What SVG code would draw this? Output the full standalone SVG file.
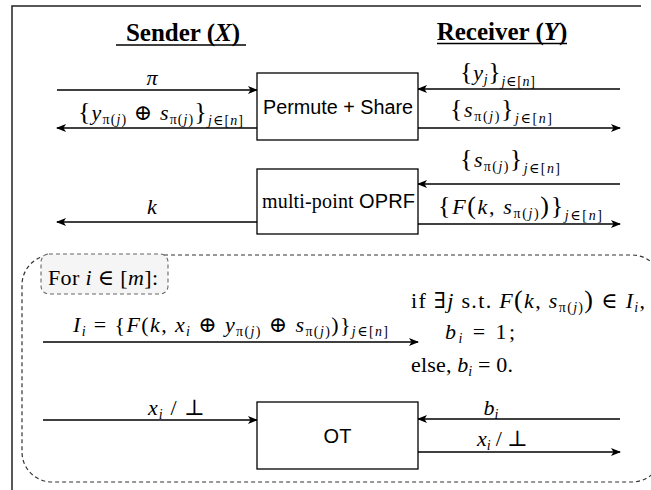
<svg xmlns="http://www.w3.org/2000/svg" width="651" height="490" viewBox="0 0 651 490">
<style>
.m{font-family:"Liberation Serif","DejaVu Serif",serif;font-size:22px;fill:#000}
.i{font-style:italic}
.s{font-size:14px}
.br{font-size:26px}
.sans{font-family:"Liberation Sans","DejaVu Sans",sans-serif;font-size:20px;fill:#000}
.h{font-family:"Liberation Serif","DejaVu Serif",serif;font-size:25px;font-weight:bold;fill:#000}
.box{fill:#fff;stroke:#000;stroke-width:1.3}
.ln{fill:none;stroke:#000;stroke-width:1.3}
</style>
<defs>
<marker id="ah" viewBox="0 0 10 8" refX="9" refY="4" markerWidth="10" markerHeight="8" markerUnits="userSpaceOnUse" orient="auto">
<path d="M0,0 L10,4 L0,8 L2.5,4 z" fill="#000"/>
</marker>
</defs>
<rect width="651" height="490" fill="#fff"/>
<g id="frame">
<path d="M12,490 L12,6 L641,6" fill="none" stroke="#222" stroke-width="1.5"/>
</g>
<g id="loop">
<rect x="22" y="255" width="640" height="227" rx="30" fill="none" stroke="#333" stroke-width="1.2" stroke-dasharray="4 3"/>
</g>
<g id="headers">
<text class="h" x="183" y="41" text-anchor="middle">Sender (<tspan class="i">X</tspan>)</text>
<line x1="116" y1="45" x2="246" y2="45" stroke="#000" stroke-width="1.3"/>
<text class="h" x="502" y="40" text-anchor="middle">Receiver (<tspan class="i">Y</tspan>)</text>
<line x1="437" y1="43.5" x2="567" y2="43.5" stroke="#000" stroke-width="1.3"/>
</g>
<g id="connectors">
<line class="ln" x1="57" y1="90" x2="257" y2="90" marker-end="url(#ah)"/>
<line class="ln" x1="257" y1="128" x2="57" y2="128" marker-end="url(#ah)"/>
<line class="ln" x1="620" y1="89" x2="418" y2="89" marker-end="url(#ah)"/>
<line class="ln" x1="418" y1="128" x2="620" y2="128" marker-end="url(#ah)"/>
<line class="ln" x1="257" y1="222" x2="57" y2="222" marker-end="url(#ah)"/>
<line class="ln" x1="620" y1="184" x2="418" y2="184" marker-end="url(#ah)"/>
<line class="ln" x1="418" y1="224" x2="620" y2="224" marker-end="url(#ah)"/>
<line class="ln" x1="43" y1="342" x2="418" y2="342" marker-end="url(#ah)"/>
<line class="ln" x1="43" y1="420" x2="257" y2="420" marker-end="url(#ah)"/>
<line class="ln" x1="620" y1="419" x2="418" y2="419" marker-end="url(#ah)"/>
<line class="ln" x1="418" y1="452" x2="620" y2="452" marker-end="url(#ah)"/>
</g>
<g id="labels">
<text class="m i" x="152" y="85" text-anchor="middle">π</text>
<text class="m" x="78" y="120" textLength="165" lengthAdjust="spacing"><tspan class="br">{</tspan><tspan class="i">y</tspan><tspan class="s" dy="4">π(<tspan class="i">j</tspan>)</tspan><tspan dy="-4"> ⊕ </tspan><tspan class="i">s</tspan><tspan class="s" dy="4">π(<tspan class="i">j</tspan>)</tspan><tspan class="br" dy="-4">}</tspan><tspan class="s" dy="5"><tspan class="i">j</tspan>∈[<tspan class="i">n</tspan>]</tspan></text>
<text class="m" x="460" y="80" textLength="75" lengthAdjust="spacing"><tspan class="br">{</tspan><tspan class="i">y</tspan><tspan class="s i" dy="4">j</tspan><tspan class="br" dy="-4">}</tspan><tspan class="s" dy="6"><tspan class="i">j</tspan>∈[<tspan class="i">n</tspan>]</tspan></text>
<text class="m" x="450" y="117" textLength="102" lengthAdjust="spacing"><tspan class="br">{</tspan><tspan class="i">s</tspan><tspan class="s" dy="4">π(<tspan class="i">j</tspan>)</tspan><tspan class="br" dy="-4">}</tspan><tspan class="s" dy="6"><tspan class="i">j</tspan>∈[<tspan class="i">n</tspan>]</tspan></text>
<text class="m i" x="152" y="214" text-anchor="middle">k</text>
<text class="m" x="460" y="167" textLength="100" lengthAdjust="spacing"><tspan class="br">{</tspan><tspan class="i">s</tspan><tspan class="s" dy="4">π(<tspan class="i">j</tspan>)</tspan><tspan class="br" dy="-4">}</tspan><tspan class="s" dy="6"><tspan class="i">j</tspan>∈[<tspan class="i">n</tspan>]</tspan></text>
<text class="m" x="438" y="214" textLength="164" lengthAdjust="spacing"><tspan class="br">{</tspan><tspan class="i">F</tspan><tspan class="br">(</tspan><tspan class="i">k</tspan>, <tspan class="i">s</tspan><tspan class="s" dy="4">π(<tspan class="i">j</tspan>)</tspan><tspan class="br" dy="-4">)</tspan><tspan class="br">}</tspan><tspan class="s" dy="6"><tspan class="i">j</tspan>∈[<tspan class="i">n</tspan>]</tspan></text>
<text class="m" x="73" y="332" textLength="315" lengthAdjust="spacing"><tspan class="i">I</tspan><tspan class="s i" dy="4">i</tspan><tspan dy="-4"> = {</tspan><tspan class="i">F</tspan>(<tspan class="i">k</tspan>, <tspan class="i">x</tspan><tspan class="s i" dy="4">i</tspan><tspan dy="-4"> ⊕ </tspan><tspan class="i">y</tspan><tspan class="s" dy="4">π(<tspan class="i">j</tspan>)</tspan><tspan dy="-4"> ⊕ </tspan><tspan class="i">s</tspan><tspan class="s" dy="4">π(<tspan class="i">j</tspan>)</tspan><tspan dy="-4">)}</tspan><tspan class="s" dy="4"><tspan class="i">j</tspan>∈[<tspan class="i">n</tspan>]</tspan></text>
<text class="m" x="411" y="308" textLength="234" lengthAdjust="spacing">if ∃<tspan class="i">j</tspan> s.t. <tspan class="i">F</tspan><tspan class="br">(</tspan><tspan class="i">k</tspan>, <tspan class="i">s</tspan><tspan class="s" dy="4">π(<tspan class="i">j</tspan>)</tspan><tspan class="br" dy="-4">)</tspan> ∈ <tspan class="i">I</tspan><tspan class="s i" dy="4">i</tspan><tspan dy="-4">,</tspan></text>
<text class="m" x="445" y="339" textLength="70" lengthAdjust="spacing"><tspan class="i">b</tspan><tspan class="s i" dy="4">i</tspan><tspan dy="-4"> = 1;</tspan></text>
<text class="m" x="411" y="372" textLength="102" lengthAdjust="spacing">else, <tspan class="i">b</tspan><tspan class="s i" dy="4">i</tspan><tspan dy="-4"> = 0.</tspan></text>
<text class="m" x="148" y="415" textLength="57" lengthAdjust="spacing"><tspan class="i">x</tspan><tspan class="s i" dy="4">i</tspan><tspan dy="-4"> / ⊥</tspan></text>
<text class="m" x="491" y="415" text-anchor="middle"><tspan class="i">b</tspan><tspan class="s i" dy="4">i</tspan></text>
<text class="m" x="477" y="446" textLength="51" lengthAdjust="spacing"><tspan class="i">x</tspan><tspan class="s i" dy="4">i</tspan><tspan dy="-4"> / ⊥</tspan></text>
</g>
<g id="node-permute">
<rect class="box" x="257" y="73" width="161" height="67"/>
<text class="sans" x="263" y="114" textLength="150" lengthAdjust="spacingAndGlyphs">Permute + Share</text>
</g>
<g id="node-oprf">
<rect class="box" x="257" y="169" width="161" height="65"/>
<text class="m" x="262" y="208" textLength="153" lengthAdjust="spacing" style="font-size:20px">multi-point <tspan class="sans">OPRF</tspan></text>
</g>
<g id="node-for">
<rect x="41" y="254" width="127" height="40" rx="8" fill="#f5f5f5" stroke="#666" stroke-width="1.1" stroke-dasharray="4 3"/>
<text class="m" x="48" y="285" textLength="110" lengthAdjust="spacing">For <tspan class="i">i</tspan> ∈ [<tspan class="i">m</tspan>]:</text>
</g>
<g id="node-ot">
<rect class="box" x="257" y="402" width="161" height="67"/>
<text class="sans" x="337.5" y="443" text-anchor="middle">OT</text>
</g>
</svg>
